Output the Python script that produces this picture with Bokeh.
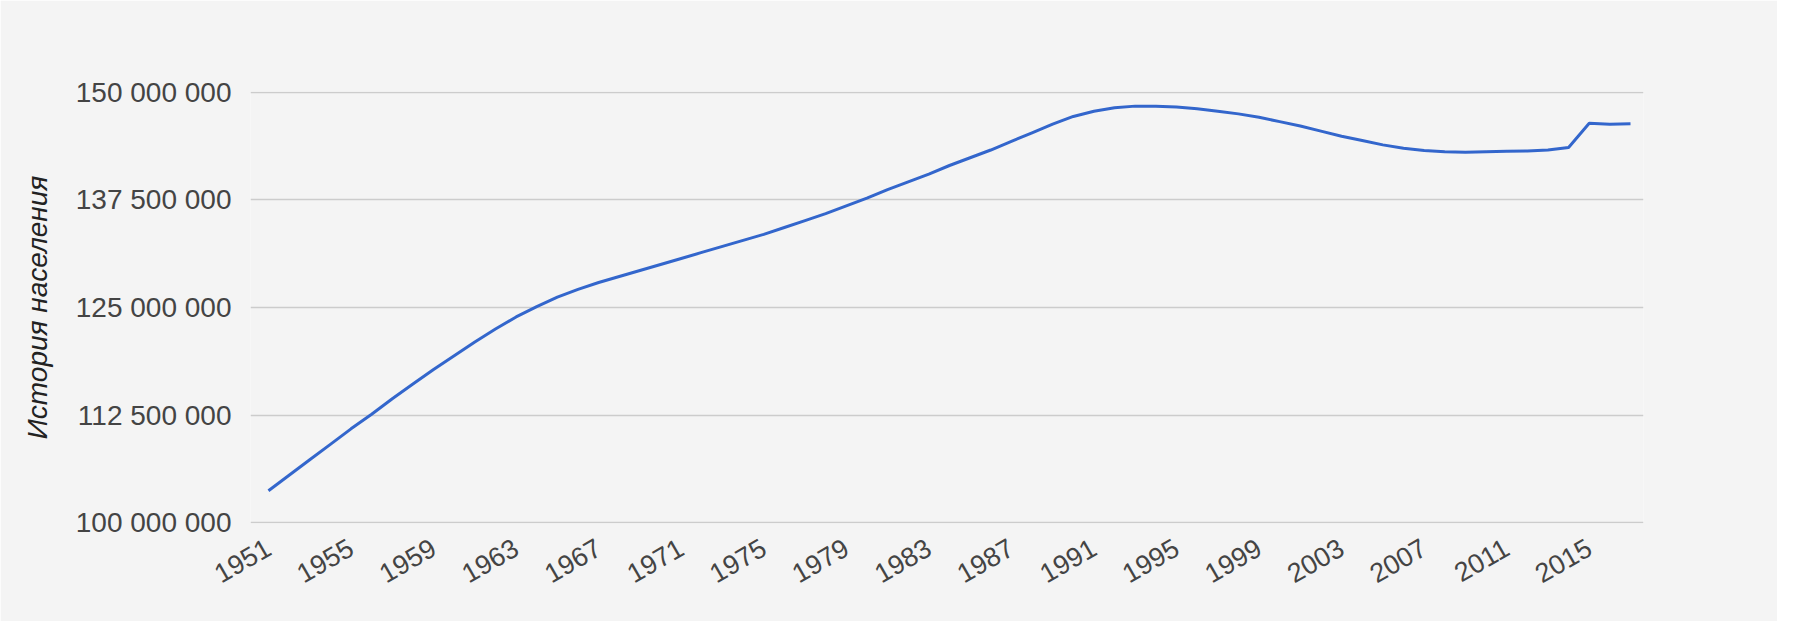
import math
from bokeh.plotting import figure
from bokeh.models import Range1d, FixedTicker, CustomJSTickFormatter, ColumnDataSource
from bokeh.embed import file_html
from bokeh.resources import INLINE

# ---- data ----
years = list(range(1951, 2018))
population_millions = [
    103.7, 105.5, 107.3, 109.1, 110.9, 112.6, 114.4, 116.1, 117.8, 119.4,
    121.0, 122.5, 123.9, 125.1, 126.2, 127.1, 127.9, 128.6, 129.3, 130.0,
    130.7, 131.4, 132.1, 132.8, 133.5, 134.3, 135.1, 135.9, 136.8, 137.7,
    138.7, 139.6, 140.5, 141.5, 142.4, 143.3, 144.3, 145.3, 146.3, 147.2,
    147.8, 148.2, 148.4, 148.4, 148.3, 148.1, 147.8, 147.5, 147.1, 146.6,
    146.1, 145.5, 144.9, 144.4, 143.9, 143.5, 143.25, 143.1, 143.05, 143.1,
    143.15, 143.2, 143.3, 143.6, 146.4, 146.3, 146.35,
]
x_tick_years = [1951, 1955, 1959, 1963, 1967, 1971, 1975, 1979, 1983,
                1987, 1991, 1995, 1999, 2003, 2007, 2011, 2015]
y_ticks = [100000000, 112500000, 125000000, 137500000, 150000000]
y_label = "История населения"

population = [v * 1e6 for v in population_millions]
src = ColumnDataSource(dict(year=years, pop=population))

BG = "#f4f4f4"
FONT = "Liberation Sans"

p = figure(
    frame_width=1393, frame_height=432,
    min_border_left=250, min_border_right=134,
    min_border_top=91, min_border_bottom=98,
    x_range=Range1d(1950.13, 2017.63),
    y_range=Range1d(99900000, 150100000),
    output_backend="svg", toolbar_location=None,
    background_fill_color=BG, border_fill_color=BG,
)
p.outline_line_color = None

p.line("year", "pop", source=src, line_color="#3366cc", line_width=3)

# grid
p.xgrid.grid_line_color = None
p.ygrid.grid_line_color = "#cccccc"
p.ygrid.grid_line_width = 1.5

# x axis
p.xaxis.ticker = FixedTicker(ticks=x_tick_years)
p.xaxis.major_label_orientation = math.pi / 6
p.xaxis.axis_line_color = None
p.xaxis.major_tick_line_color = None
p.xaxis.minor_tick_line_color = None
p.xaxis.major_tick_out = 0
p.xaxis.major_label_standoff = 22
p.xaxis.major_label_text_font = FONT
p.xaxis.major_label_text_font_size = "27px"
p.xaxis.major_label_text_color = "#444444"

# y axis
p.yaxis.ticker = FixedTicker(ticks=y_ticks)
p.yaxis.formatter = CustomJSTickFormatter(
    code="return tick.toFixed(0).replace(/\\B(?=(\\d{3})+(?!\\d))/g, ' ');")
p.yaxis.axis_line_color = None
p.yaxis.major_tick_line_color = None
p.yaxis.minor_tick_line_color = None
p.yaxis.major_tick_out = 0
p.yaxis.major_label_standoff = 19
p.yaxis.major_label_text_font = FONT
p.yaxis.major_label_text_font_size = "28px"
p.yaxis.major_label_text_color = "#444444"
p.yaxis.axis_label = y_label
p.yaxis.axis_label_text_font = FONT
p.yaxis.axis_label_text_font_style = "italic"
p.yaxis.axis_label_text_font_size = "28px"
p.yaxis.axis_label_text_color = "#222222"
p.yaxis.axis_label_standoff = 20

html = file_html(p, INLINE)
html = html.replace("<body>", '<body style="background:#f4f4f4">', 1)
open("out.html", "w").write(html)
